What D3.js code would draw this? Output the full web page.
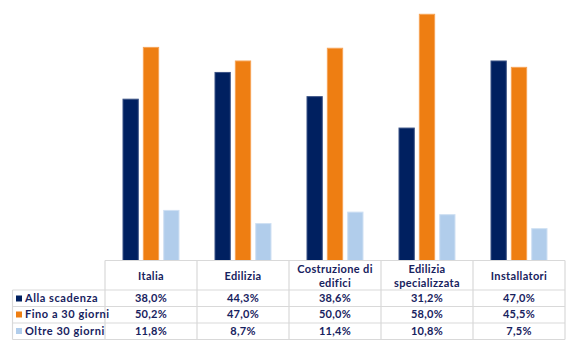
<!DOCTYPE html>
<html><head><meta charset="utf-8">
<script src="https://cdn.jsdelivr.net/npm/d3@7"></script>
<style>
html,body{margin:0;padding:0;background:#fff;}
svg{display:block;}
text{font-family:"Lato","Noto Sans",sans-serif;font-weight:bold;fill:#17225e;}
</style></head>
<body><svg id="c" width="570" height="356"></svg>
<script>
const categories = [["Italia"],["Edilizia"],["Costruzione di","edifici"],["Edilizia","specializzata"],["Installatori"]];
const series = ["Alla scadenza","Fino a 30 giorni","Oltre 30 giorni"];
const allaScadenza = [38.0,44.3,38.6,31.2,47.0];
const fino30 = [50.2,47.0,50.0,58.0,45.5];
const oltre30 = [11.8,8.7,11.4,10.8,7.5];
const colors = ["#002060","#ee7e12","#b1cdeb"];
const strokes = ["#3b5386","#f6a457","#cfe0f3"];
const values = [allaScadenza, fino30, oltre30];

const svg = d3.select("#c");
const catIdx = categories.map((d,i)=>i);
const x = d3.scaleBand().domain(catIdx).range([105,565]);
const inner = d3.scaleBand().domain(d3.range(series.length)).range([-28.5,28.5]).paddingInner(0.2);
const y = d3.scaleLinear().domain([0,60]).range([260, 5.3]);

// bars
values.forEach((arr,s)=>{
  svg.append("g").selectAll("rect").data(arr).join("rect")
    .attr("x",(d,i)=>x(i)+x.bandwidth()/2+inner(s)+0.5)
    .attr("width",inner.bandwidth()-1)
    .attr("y",d=>y(d)+0.5)
    .attr("height",d=>y(0)-y(d))
    .attr("fill",colors[s])
    .attr("stroke",strokes[s]).attr("stroke-width",1);
});

// table
const rowsY = [260.5,290,306.5,323,339.5];
const leftX = 12.5;
const grid = svg.append("g").attr("stroke","#d9d9d9").attr("stroke-width",1.2).attr("fill","none");
const colEdges = catIdx.map(i=>x(i)).concat([x.range()[1]]);
grid.append("line").attr("x1",colEdges[0]).attr("x2",565).attr("y1",rowsY[0]).attr("y2",rowsY[0]);
for(let r=1;r<rowsY.length;r++){
  grid.append("line").attr("x1",leftX).attr("x2",565).attr("y1",rowsY[r]).attr("y2",rowsY[r]);
}
colEdges.forEach(cx=>{
  grid.append("line").attr("x1",cx).attr("x2",cx).attr("y1",rowsY[0]).attr("y2",rowsY[4]);
});
grid.append("line").attr("x1",leftX).attr("x2",leftX).attr("y1",rowsY[1]).attr("y2",rowsY[4]);

// header text
categories.forEach((lines,i)=>{
  const cx = x(i)+x.bandwidth()/2;
  const t = svg.append("text").attr("text-anchor","middle").attr("font-size",11).attr("letter-spacing","0.35px");
  const mid = 276;
  lines.forEach((ln,k)=>{
    t.append("tspan").attr("x",cx).attr("y",mid + (k-(lines.length-1)/2)*14).attr("dy","0.35em").text(ln);
  });
});

// row labels + values
const rowMid = [298.5,314.5,331];
series.forEach((name,s)=>{
  svg.append("rect").attr("x",16).attr("y",rowMid[s]-3).attr("width",6).attr("height",6).attr("fill",colors[s]);
  svg.append("text").attr("x",25).attr("y",rowMid[s]).attr("dy","0.35em").attr("font-size",11).attr("letter-spacing","0.55px").text(name);
  values[s].forEach((v,i)=>{
    svg.append("text").attr("x",x(i)+x.bandwidth()/2).attr("y",rowMid[s]).attr("dy","0.35em")
      .attr("text-anchor","middle").attr("font-size",11).attr("letter-spacing","0.3px")
      .text(d3.format(".1f")(v).replace(".",",")+"%");
  });
});
</script></body></html>
